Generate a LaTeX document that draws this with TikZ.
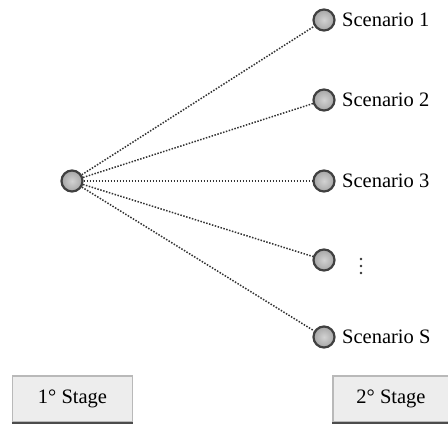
\documentclass[tikz,border=0pt]{standalone}
\usepackage{fontspec}
\setmainfont{Liberation Serif}
\begin{document}
\begin{tikzpicture}[x=1pt,y=-1pt,
  stnode/.style={circle,minimum size=21pt,inner sep=0pt,draw=black!75,line width=2.2pt,
    inner color=gray!35,outer color=gray!70},
  link/.style={dash pattern=on 1.5pt off 1.5pt,line width=1.5pt,black!80},
  lbl/.style={anchor=base west,font=\fontsize{20.5}{24}\selectfont,inner sep=0pt},
  stagebox/.style={draw=gray!55,line width=1.5pt,fill=gray!14,font=\fontsize{20.5}{24}\selectfont},
  vdot/.style={circle,fill=black!80,inner sep=0pt,minimum size=2.8pt}]
\useasboundingbox (0,0) rectangle (448,424);
% root and second-stage nodes
\node[stnode] (r) at (72,181) {};
\node[stnode] (s1) at (324,20) {};
\node[stnode] (s2) at (324,100) {};
\node[stnode] (s3) at (324,181) {};
\node[stnode] (s4) at (324,260) {};
\node[stnode] (s5) at (324,337) {};
% labels
\node[lbl] (l1) at (342,26) {Scenario 1};
\node[lbl] (l2) at (342,106) {Scenario 2};
\node[lbl] (l3) at (342,187) {Scenario 3};
\node[lbl] (l5) at (342,343) {Scenario S};
% vertical ellipsis next to the unnamed scenario
\node[vdot] (d1) at (361,259) {};
\node[vdot] (d2) at (361,266) {};
\node[vdot] (d3) at (361,273) {};
% branches
\draw[link] (r) -- (s1);
\draw[link] (r) -- (s2);
\draw[link] (r) -- (s3);
\draw[link] (r) -- (s4);
\draw[link] (r) -- (s5);
% stage boxes
\node[stagebox,minimum width=120pt,minimum height=46pt] (b1) at (72.5,399) {1° Stage};
\node[stagebox,minimum width=116pt,minimum height=46pt] (b2) at (391,399) {2° Stage};
\draw[black!70,line width=2pt] (b1.south west) -- (b1.south east);
\draw[black!70,line width=2pt] (b2.south west) -- (b2.south east);
\end{tikzpicture}
\end{document}
